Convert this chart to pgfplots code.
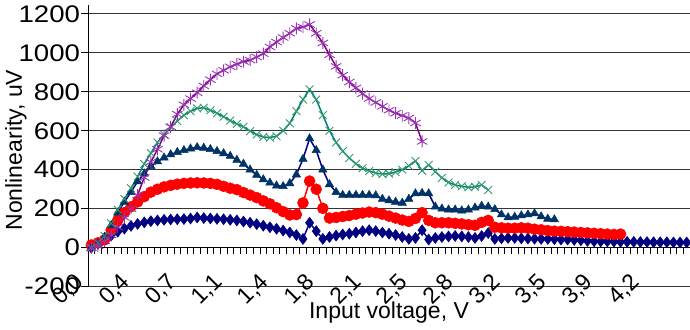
\documentclass[border=0pt]{standalone}
\usepackage{pgfplots}
\pgfplotsset{compat=1.18}
\usepackage{fontspec}
\setmainfont{Liberation Sans}
\newfontfamily\widefont[FakeStretch=1.15]{Liberation Sans}
\definecolor{cNavy}{RGB}{0,0,128}
\definecolor{cTri}{RGB}{0,51,102}
\definecolor{cTealL}{RGB}{0,128,128}
\definecolor{cTealM}{RGB}{51,153,102}
\definecolor{cPurL}{RGB}{128,0,128}
\definecolor{cPurM}{RGB}{153,51,180}
\pgfplotstableread{
i v
0 0
1 20
2 40
3 62
4 82
5 98
6 112
7 122
8 130
9 136
10 140
11 143
12 145
13 146
14 147
15 150
16 155
17 152
18 150
19 148
20 146
21 143
22 140
23 134
24 128
25 121
26 113
27 105
28 97
29 88
30 78
31 65
32 45
33 128
34 85
35 45
36 55
37 62
38 68
39 72
40 78
41 85
42 90
43 85
44 78
45 72
46 65
47 55
48 45
49 50
50 90
51 42
52 50
53 55
54 58
55 60
56 58
57 55
58 50
59 60
60 75
61 45
62 48
63 50
64 50
65 48
66 47
67 46
68 45
69 45
70 44
71 42
72 42
73 40
74 38
75 35
76 33
77 32
78 32
79 31
80 30
81 30
82 30
83 29
84 29
85 28
86 28
87 28
88 27
89 27
90 27
}\tblA
\pgfplotstableread{
i v
0 14
1 25
2 40
3 90
4 140
5 180
6 210
7 235
8 262
9 285
10 300
11 312
12 320
13 326
14 330
15 332
16 333
17 332
18 330
19 325
20 315
21 305
22 298
23 283
24 270
25 257
26 240
27 225
28 205
29 185
30 168
31 170
32 230
33 342
34 300
35 202
36 152
37 155
38 160
39 165
40 172
41 178
42 183
43 180
44 172
45 162
46 152
47 142
48 135
49 150
50 180
51 140
52 128
53 128
54 128
55 125
56 122
57 118
58 115
59 130
60 140
61 105
62 102
63 100
64 100
65 102
66 100
67 95
68 92
69 88
70 85
71 84
72 82
73 80
74 78
75 76
76 74
77 72
78 70
79 68
80 70
}\tblB
\pgfplotstableread{
i v
0 0
1 20
2 55
3 115
4 180
5 235
6 285
7 340
8 380
9 418
10 442
11 462
12 478
13 490
14 500
15 508
16 515
17 512
18 505
19 495
20 484
21 470
22 450
23 430
24 400
25 373
26 350
27 333
28 318
29 315
30 330
31 375
32 455
33 560
34 500
35 400
36 325
37 285
38 270
39 270
40 270
41 270
42 270
43 268
44 250
45 242
46 235
47 230
48 250
49 278
50 280
51 278
52 210
53 200
54 195
55 195
56 190
57 195
58 205
59 214
60 210
61 197
62 170
63 155
64 158
65 165
66 170
67 176
68 160
69 148
70 145
}\tblC
\pgfplotstableread{
i v
0 0
1 25
2 60
3 125
4 195
5 250
6 305
7 365
8 430
9 485
10 540
11 580
12 618
13 650
14 680
15 700
16 715
17 718
18 705
19 690
20 672
21 652
22 635
23 620
24 598
25 580
26 568
27 565
28 572
29 600
30 638
31 700
32 760
33 812
34 760
35 680
36 600
37 540
38 495
39 460
40 430
41 408
42 393
43 383
44 378
45 380
46 388
47 400
48 420
49 445
50 395
51 425
52 390
53 358
54 335
55 322
56 315
57 310
58 312
59 322
60 296
}\tblD
\pgfplotstableread{
i v
0 0
1 10
2 35
3 65
4 105
5 155
6 200
7 270
8 360
9 440
10 505
11 575
12 620
13 685
14 733
15 765
16 795
17 830
18 862
19 892
20 910
21 928
22 942
23 955
24 962
25 978
26 995
27 1030
28 1055
29 1078
30 1100
31 1125
32 1132
33 1145
34 1100
35 1050
36 990
37 930
38 885
39 850
40 820
41 790
42 765
43 745
44 725
45 705
46 690
47 678
48 665
49 640
50 545
}\tblE
\begin{document}
\begin{tikzpicture}
\useasboundingbox (-88pt,-42.3pt) rectangle (602pt,286.7pt);
\begin{axis}[
  scale only axis, width=602pt, height=281.7pt,
  xmin=-0.5, xmax=90.5, ymin=-200, ymax=1245,
  axis x line*=middle, axis y line*=left,
  hide obscured x ticks=false, hide obscured y ticks=false,
  axis line style={line width=0.8pt, black},
  xtick={-0.5,0.5,...,90.5},
  xticklabels={},
  extra x ticks={0,7,...,84},
  extra x tick labels={{0,0},{0,4},{0,7},{1,1},{1,4},{1,8},{2,1},{2,5},{2,8},{3,2},{3,5},{3,9},{4,2}},
  extra x tick style={tick style={draw=none}},
  xtick style={black, line width=0.7pt},
  ytick={-200,0,200,400,600,800,1000,1200},
  yticklabels={-200,0,200,400,600,800,1000,1200},
  ymajorgrids, grid style={black!80, line width=0.8pt},
  tick align=outside, major tick length=6.5pt,
  ytick style={black, line width=0.8pt},
  xticklabel style={font=\fontsize{23}{26}\selectfont, xshift=-9pt, yshift=-22pt, rotate=45, anchor=east},
  yticklabel style={font=\widefont\fontsize{24}{26}\selectfont, xshift=2pt},
  xlabel={Input voltage, V}, ylabel={Nonlinearity, uV},
  label style={font=\fontsize{23}{26}\selectfont},
  xlabel style={at={(axis description cs:0.5,-0.0934)}, anchor=center},
  ylabel style={at={(axis description cs:-0.1196,0.485)}, anchor=center, rotate=0},
  every axis plot/.append style={line width=1.5pt},
]
\addplot[color=cNavy, mark=diamond*, mark size=5.5pt, mark options={solid, line width=0.5pt}] table[x=i, y=v] {\tblA};
\addplot[color=red, mark=*, mark size=5.5pt, mark options={solid, line width=0.5pt}] table[x=i, y=v] {\tblB};
\addplot[color=cNavy, mark=triangle*, mark size=4.8pt, mark options={solid, line width=0.5pt, draw=cTri, fill=cTri}] table[x=i, y=v] {\tblC};
\addplot[color=cTealL, mark=x, mark size=5.5pt, mark options={solid, line width=0.9pt, draw=cTealM}] table[x=i, y=v] {\tblD};
\addplot[color=cPurL, mark=asterisk, mark size=6pt, mark options={solid, line width=0.9pt, draw=cPurM}] table[x=i, y=v] {\tblE};
\end{axis}
\end{tikzpicture}
\end{document}
